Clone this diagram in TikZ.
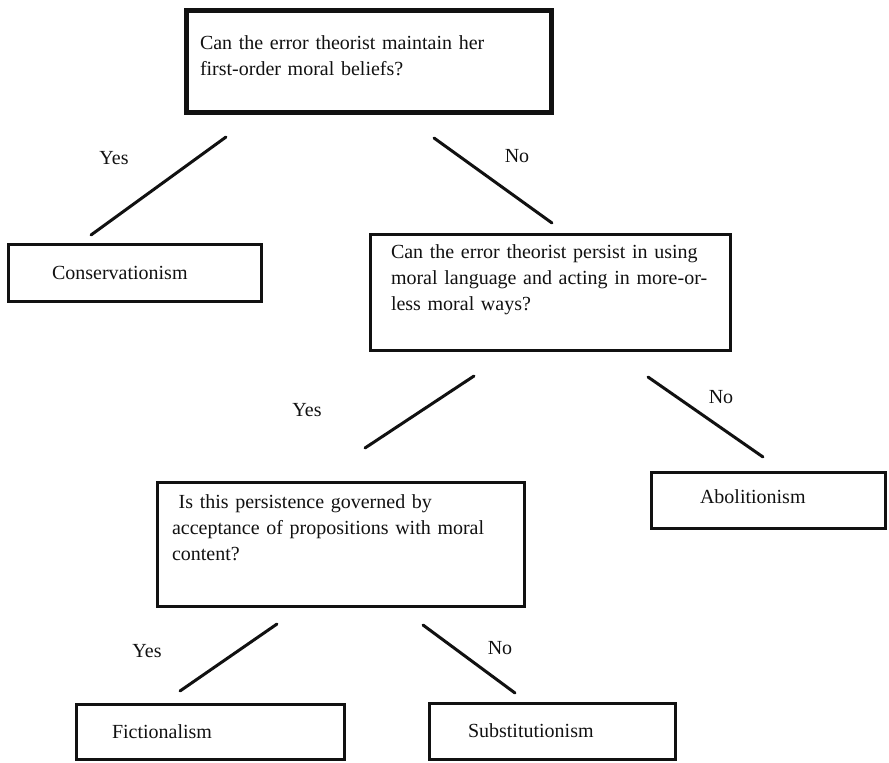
\documentclass[tikz,border=0pt]{standalone}
\usepackage{fontspec}
\setmainfont{Liberation Serif}
\definecolor{TreeInk}{HTML}{111111}
\tikzset{
  qbox/.style n args={4}{draw=TreeInk, line width=3.5pt, outer sep=0pt,
    anchor=north west, align=left, inner ysep=0pt, inner xsep=#1,
    text width=#2, text height=#3, text depth=#4},
  branch/.style={TreeInk, line width=3pt, line cap=round},
  answer/.style={anchor=base, inner sep=0pt}
}
\begin{document}
\begin{tikzpicture}[x=1pt, y=-1pt, font=\fontsize{20}{26}\selectfont, text=TreeInk]
  \useasboundingbox (0,0) rectangle (889,763);
  % Questions
  \node[qbox={13.5pt}{338pt}{38.5pt}{63.5pt}, line width=4.5pt] (q1) at (186.5,10.5)
    {Can the error theorist maintain her\\first-order moral beliefs?};
  \node[qbox={20.5pt}{319pt}{23.5pt}{92.5pt}] (q2) at (370.5,234.5)
    {\mbox{Can the error theorist persist in using}\\
     \mbox{moral language and acting in more-or-}\\less moral ways?};
  \node[qbox={14.5pt}{338pt}{25.5pt}{98.5pt}] (q3) at (157.5,482.5)
    {\ Is this persistence governed by\\acceptance of propositions with moral\\content?};
  % Positions
  \node[qbox={43.5pt}{166pt}{34.5pt}{22.5pt}] (cons) at (8.5,244.5) {Conservationism};
  \node[qbox={48.5pt}{137pt}{30.5pt}{25.5pt}] (abol) at (651.5,472.5) {Abolitionism};
  \node[qbox={35.5pt}{197pt}{33.5pt}{21.5pt}] (fict) at (76.5,704.5) {Fictionalism};
  \node[qbox={38.5pt}{169pt}{33.5pt}{22.5pt}] (subs) at (429.5,703.5) {Substitutionism};
  % Branch ends
  \coordinate (yesAtop) at (226,137); \coordinate (yesAbot) at (91,235);
  \coordinate (noAtop) at (434,138);  \coordinate (noAbot) at (552,223);
  \coordinate (yesBtop) at (474,376); \coordinate (yesBbot) at (365,448);
  \coordinate (noBtop) at (648,377);  \coordinate (noBbot) at (763,457);
  \coordinate (yesCtop) at (277,624); \coordinate (yesCbot) at (180,691);
  \coordinate (noCtop) at (423,625);  \coordinate (noCbot) at (515,693);
  % Branches
  \draw[branch] (yesAtop) -- (yesAbot);
  \draw[branch] (noAtop) -- (noAbot);
  \draw[branch] (yesBtop) -- (yesBbot);
  \draw[branch] (noBtop) -- (noBbot);
  \draw[branch] (yesCtop) -- (yesCbot);
  \draw[branch] (noCtop) -- (noCbot);
  % Answers
  \node[answer] (yesA) at (114,164) {Yes};
  \node[answer] (noA) at (517,162) {No};
  \node[answer] (yesB) at (307,416) {Yes};
  \node[answer] (noB) at (721,403) {No};
  \node[answer] (yesC) at (147,657) {Yes};
  \node[answer] (noC) at (500,654) {No};
\end{tikzpicture}
\end{document}
